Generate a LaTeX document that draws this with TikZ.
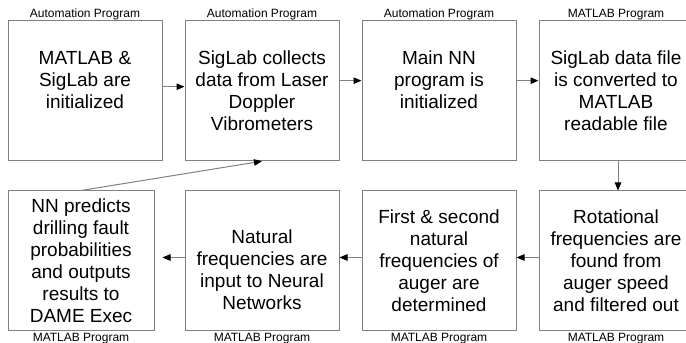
\documentclass[tikz,border=0pt]{standalone}
\usepackage{fontspec}
\setmainfont{Liberation Sans}
\usetikzlibrary{arrows.meta}

\begin{document}
\begin{tikzpicture}[x=1pt, y=1pt,
    stage/.style={draw=gray, line width=1pt, rectangle, minimum width=154pt, minimum height=140pt, inner sep=0pt, align=center, font=\fontsize{19}{22}\selectfont},
    toptag/.style={anchor=south, inner sep=0pt, yshift=0.5pt, font=\fontsize{12}{14}\selectfont},
    bottag/.style={anchor=north, inner sep=0pt, yshift=-1.5pt, font=\fontsize{12}{14}\selectfont},
    flow/.style={draw=gray, line width=1pt, -{Triangle[length=8pt, width=6.5pt, color=black]}}]
    \useasboundingbox (0,0) rectangle (686,343);

    % Automation program
    \node[stage] (init) at (85, 252.3) {MATLAB \&\\SigLab are\\initialized\\\mbox{}};
    \node[stage] (collect) at (262, 252.3) {SigLab collects\\data from Laser\\Doppler\\Vibrometers};
    \node[stage] (mainnn) at (439, 252.3) {Main NN\\program is\\initialized\\\mbox{}};

    % MATLAB program, top
    \node[stage] (convert) at (616, 252.3) {SigLab data file\\is converted to\\MATLAB\\readable file};

    % MATLAB program, bottom
    \node[stage] (rotational) at (616, 82) {Rotational\\frequencies are\\found from\\auger speed\\and filtered out};
    \node[stage] (natural) at (439, 82) {First \& second\\natural\\frequencies of\\auger are\\determined};
    \node[stage] (nninput) at (262, 82) {\mbox{}\\[10pt]Natural\\frequencies are\\input to Neural\\Networks};
    \node[stage, minimum width=146pt] (predict) at (81, 82) {NN predicts\\drilling fault\\probabilities\\and outputs\\results to\\DAME Exec};

    % Tags
    \node[toptag] (init_tag) at (init.north) {Automation Program};
    \node[toptag] (collect_tag) at (collect.north) {Automation Program};
    \node[toptag] (mainnn_tag) at (mainnn.north) {Automation Program};
    \node[toptag] (convert_tag) at (convert.north) {MATLAB Program};
    \node[bottag] (rotational_tag) at (rotational.south) {MATLAB Program};
    \node[bottag] (natural_tag) at (natural.south) {MATLAB Program};
    \node[bottag] (nninput_tag) at (nninput.south) {MATLAB Program};
    \node[bottag] (predict_tag) at (predict.south) {MATLAB Program};

    % Flow
    \draw[flow] ([yshift=4pt]init.east) -- ([yshift=4pt]collect.west);
    \draw[flow] ([yshift=10pt]collect.east) -- ([yshift=10pt]mainnn.west);
    \draw[flow] ([yshift=10pt]mainnn.east) -- ([yshift=10pt]convert.west);
    \draw[flow] ([xshift=2pt]convert.south) -- ([xshift=2pt]rotational.north);
    \draw[flow] ([yshift=3.5pt]rotational.west) -- ([yshift=3.5pt]natural.east);
    \draw[flow] ([yshift=3.5pt]natural.west) -- ([yshift=3.5pt]nninput.east);
    \draw[flow] ([yshift=3.5pt]nninput.west) -- ([shift={(8pt,3.5pt)}]predict.east);

    % Back to SigLab
    \draw[flow] (predict.north) -- (collect.south);

\end{tikzpicture}
\end{document}
